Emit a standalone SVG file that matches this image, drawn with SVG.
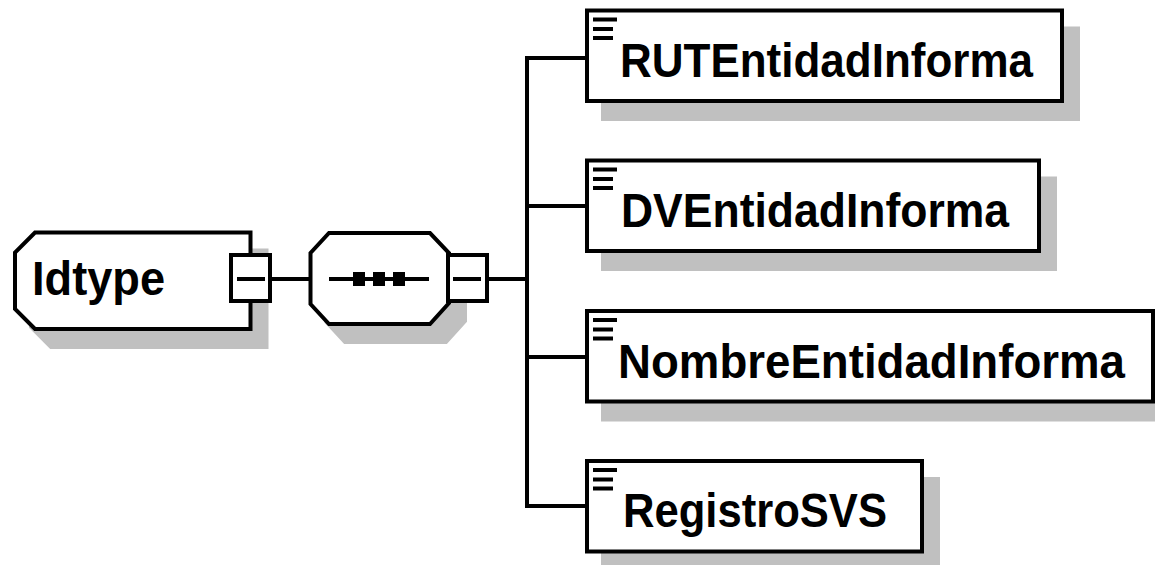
<svg xmlns="http://www.w3.org/2000/svg" width="1155" height="565" viewBox="0 0 1155 565">
<style>
.shadow{fill:#C0C0C0;stroke:#C0C0C0;stroke-width:4}
.box{fill:#FFFFFF;stroke:#000000;stroke-width:4}
.line{fill:none;stroke:#000000;stroke-width:4}
.ico{fill:#000000}
.lbl{font-family:"Liberation Sans",Arial,sans-serif;font-weight:bold;font-size:48px;fill:#000000}
</style>
<rect width="1155" height="565" fill="#FFFFFF"/>
<g id="connectors">
<path class="line" d="M270,279 H310.5"/>
<path class="line" d="M487,279 H527"/>
<path class="line" d="M587,58 H527 V506 H587"/>
<path class="line" d="M527,206 H587"/>
<path class="line" d="M527,357 H587"/>
</g>
<g id="node-Idtype">
<path class="shadow" transform="translate(16,18)" d="M35,232.5 H250.5 V329 H35 L15,309 V252.5 Z"/>
<path class="box" d="M35,232.5 H250.5 V329 H35 L15,309 V252.5 Z"/>
<text class="lbl" x="32" y="295" textLength="133" lengthAdjust="spacingAndGlyphs">Idtype</text>
<rect class="box" x="231" y="255" width="39" height="46"/>
<path class="line" d="M237,279 H265"/>
</g>
<g id="node-sequence">
<path class="shadow" transform="translate(16,18)" d="M329,233 H430 L449,253 V303 L430,324 H329 L310.5,304 V253 Z"/>
<path class="box" d="M329,233 H430 L449,253 V303 L430,324 H329 L310.5,304 V253 Z"/>
<path class="line" d="M329,279 H429"/>
<rect class="ico" x="353" y="272" width="12" height="14"/>
<rect class="ico" x="373" y="272" width="12" height="14"/>
<rect class="ico" x="393" y="272" width="12" height="14"/>
<rect class="box" x="448" y="255" width="39" height="46"/>
<path class="line" d="M453,279 H481"/>
</g>
<g id="node-RUTEntidadInforma">
<rect class="shadow" x="603" y="28.5" width="475" height="90.5"/>
<rect class="box" x="587" y="10.5" width="475" height="90.5"/>
<rect class="ico" x="593" y="17.5" width="24" height="4"/>
<rect class="ico" x="593" y="27" width="20" height="4"/>
<rect class="ico" x="593" y="36" width="20" height="4"/>
<text class="lbl" x="620" y="77" textLength="413" lengthAdjust="spacingAndGlyphs">RUTEntidadInforma</text>
</g>
<g id="node-DVEntidadInforma">
<rect class="shadow" x="603" y="178.5" width="452" height="90.5"/>
<rect class="box" x="587" y="160.5" width="452" height="90.5"/>
<rect class="ico" x="593" y="167.5" width="24" height="4"/>
<rect class="ico" x="593" y="177" width="20" height="4"/>
<rect class="ico" x="593" y="186" width="20" height="4"/>
<text class="lbl" x="621" y="227" textLength="388" lengthAdjust="spacingAndGlyphs">DVEntidadInforma</text>
</g>
<g id="node-NombreEntidadInforma">
<rect class="shadow" x="603" y="329" width="566" height="90.5"/>
<rect class="box" x="587" y="311" width="566" height="90.5"/>
<rect class="ico" x="593" y="318" width="24" height="4"/>
<rect class="ico" x="593" y="327.5" width="20" height="4"/>
<rect class="ico" x="593" y="336.5" width="20" height="4"/>
<text class="lbl" x="618" y="378" textLength="507" lengthAdjust="spacingAndGlyphs">NombreEntidadInforma</text>
</g>
<g id="node-RegistroSVS">
<rect class="shadow" x="603" y="479" width="335" height="90.5"/>
<rect class="box" x="587" y="461" width="335" height="90.5"/>
<rect class="ico" x="593" y="468" width="24" height="4"/>
<rect class="ico" x="593" y="477.5" width="20" height="4"/>
<rect class="ico" x="593" y="486.5" width="20" height="4"/>
<text class="lbl" x="623" y="527" textLength="264" lengthAdjust="spacingAndGlyphs">RegistroSVS</text>
</g>
</svg>
